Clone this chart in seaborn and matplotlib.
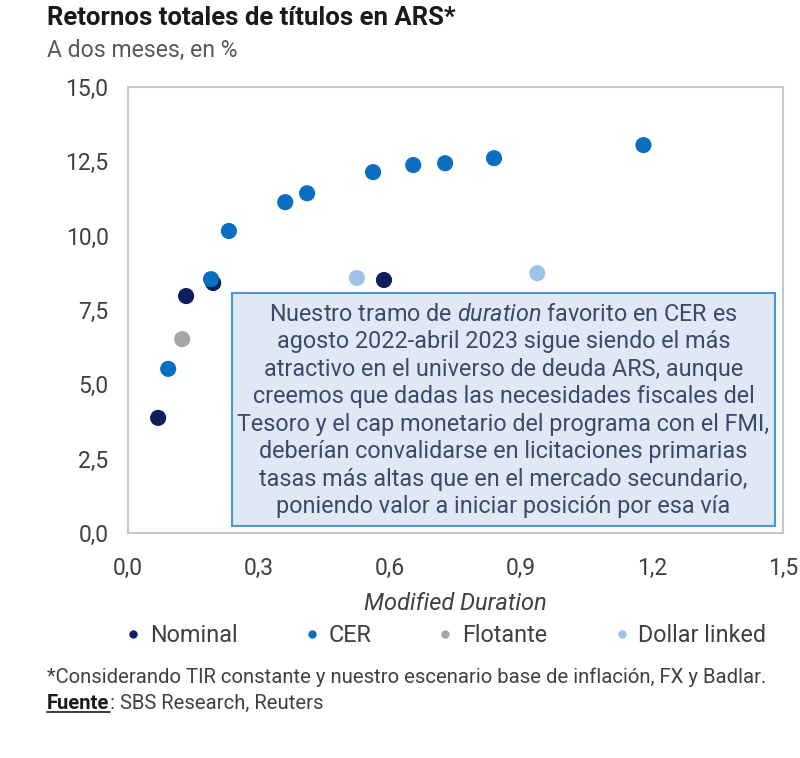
import numpy as np
import pandas as pd
import matplotlib.pyplot as plt
import seaborn as sns
from matplotlib.lines import Line2D
from matplotlib.patches import Rectangle
from matplotlib.ticker import FuncFormatter

# =========================
# DATA
# =========================

nominal_x = [0.069, 0.133, 0.195, 0.586]
nominal_y = [3.87, 7.97, 8.41, 8.51]

cer_x = [0.092, 0.190, 0.231, 0.360, 0.410, 0.561, 0.653, 0.726, 0.838, 1.180]
cer_y = [5.52, 8.54, 10.16, 11.13, 11.43, 12.14, 12.38, 12.44, 12.61, 13.05]

flotante_x = [0.124]
flotante_y = [6.52]

dollar_x = [0.524, 0.937]
dollar_y = [8.58, 8.74]

categories = ["Nominal", "CER", "Flotante", "Dollar linked"]
colors = ["#0a1f5c", "#0a6fc2", "#a6a6a6", "#9fc3e7"]

x_ticks = [0.0, 0.3, 0.6, 0.9, 1.2, 1.5]
y_ticks = [0.0, 2.5, 5.0, 7.5, 10.0, 12.5, 15.0]

df = pd.concat([
    pd.DataFrame({"dur": nominal_x, "ret": nominal_y, "tipo": "Nominal"}),
    pd.DataFrame({"dur": flotante_x, "ret": flotante_y, "tipo": "Flotante"}),
    pd.DataFrame({"dur": dollar_x, "ret": dollar_y, "tipo": "Dollar linked"}),
    pd.DataFrame({"dur": cer_x, "ret": cer_y, "tipo": "CER"}),
], ignore_index=True)

# =========================
# STYLE
# =========================

sns.set_style("white")
plt.rcParams["font.family"] = ["Roboto", "DejaVu Sans"]
plt.rcParams["mathtext.fontset"] = "custom"
plt.rcParams["mathtext.rm"] = "Roboto"
plt.rcParams["mathtext.it"] = "Roboto:italic"

text_col = "#404040"

fig = plt.figure(figsize=(8, 7.58), dpi=100)
ax = fig.add_axes([0.16, 0.297, 0.819, 0.588])

sns.scatterplot(
    data=df, x="dur", y="ret", hue="tipo",
    hue_order=categories, palette=dict(zip(categories, colors)),
    s=135, linewidth=0, ax=ax, legend=False, zorder=3
)

ax.set_xlim(0, 1.5)
ax.set_ylim(0, 15)
ax.set_xticks(x_ticks)
ax.set_yticks(y_ticks)
comma = FuncFormatter(lambda v, p: f"{v:.1f}".replace(".", ","))
ax.xaxis.set_major_formatter(comma)
ax.yaxis.set_major_formatter(comma)
ax.tick_params(axis="both", length=0, labelsize=16.5, labelcolor=text_col)
ax.tick_params(axis="x", pad=17)
ax.tick_params(axis="y", pad=14)

for sp in ax.spines.values():
    sp.set_color("#c8c8c8")
    sp.set_linewidth(1.5)

ax.set_xlabel("Modified Duration", fontsize=17, style="italic",
              color=text_col, labelpad=9)
ax.set_ylabel("")

# text box
ax.add_patch(Rectangle((0.159, 0.016), 0.829, 0.522, transform=ax.transAxes,
                       facecolor="#dfe8f4", edgecolor="#4f94d4", lw=1.5, zorder=4))
box_text = (
    "Nuestro tramo de $\\mathit{duration}$ favorito en CER es\n"
    "agosto 2022-abril 2023 sigue siendo el más\n"
    "atractivo en el universo de deuda ARS, aunque\n"
    "creemos que dadas las necesidades fiscales del\n"
    "Tesoro y el cap monetario del programa con el FMI,\n"
    "deberían convalidarse en licitaciones primarias\n"
    "tasas más altas que en el mercado secundario,\n"
    "poniendo valor a iniciar posición por esa vía"
)
ax.text(0.573, 0.275, box_text, transform=ax.transAxes, ha="center",
        va="center", multialignment="center", fontsize=16.8,
        color="#3b4a6b", linespacing=1.25, zorder=5)

# legend
handles = [Line2D([], [], marker="o", ls="", color=c, markersize=5)
           for c in colors]
ax.legend(handles, categories, loc="upper center", bbox_to_anchor=(0.482, -0.158),
          ncol=4, frameon=False, fontsize=16.8, handlelength=1,
          handletextpad=0.22, columnspacing=2.68, labelcolor=text_col)

# titles and notes
fig.text(0.059, 0.976, "Retornos totales de títulos en ARS*", fontsize=18.5,
         fontweight="bold", color="#1a1a1a", va="center")
fig.text(0.059, 0.934, "A dos meses, en %", fontsize=16.6, color="#595959",
         va="center")
fig.text(0.059, 0.107,
         "*Considerando TIR constante y nuestro escenario base de inflación, FX y Badlar.",
         fontsize=14.6, color=text_col, va="center")
f_txt = fig.text(0.059, 0.072, "Fuente", fontsize=14.6, fontweight="bold",
                 color="#1a1a1a", va="center")
fig.canvas.draw()
bb = f_txt.get_window_extent().transformed(fig.transFigure.inverted())
fig.add_artist(Line2D([bb.x0, bb.x1], [bb.y0 + 0.001, bb.y0 + 0.001],
                      color="#1a1a1a", lw=1.2, transform=fig.transFigure))
fig.text(bb.x1, 0.072, ": SBS Research, Reuters", fontsize=14.6,
         color=text_col, va="center")

plt.savefig("out.png", dpi=100)
plt.close()
